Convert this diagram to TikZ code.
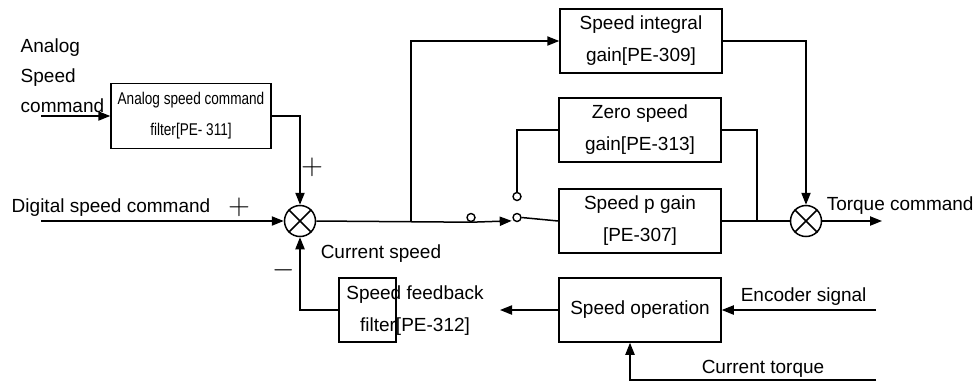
\documentclass[tikz,border=0pt]{standalone}
\usepackage{fontspec}
\setmainfont{Liberation Sans}
\newfontfamily\narrowfont[FakeStretch=0.8]{Liberation Sans}
\usetikzlibrary{arrows.meta}

\begin{document}
\begin{tikzpicture}[
    x=0.5pt, y=-0.5pt,
    >={Triangle[length=6pt, width=4.6pt]},
    line width=0.75pt,
    font=\fontsize{9.5}{16}\selectfont,
    block/.style   = {draw, rectangle, inner sep=0pt, minimum width=81pt, minimum height=32pt, align=center},
    sumj/.style    = {draw, circle, inner sep=0pt, minimum size=15.5pt},
    contact/.style = {draw, circle, fill=white, inner sep=0pt, minimum size=4pt, line width=0.7pt},
    lbl/.style     = {anchor=west, inner sep=0pt},
    sgn/.style     = {inner sep=0pt, font=\fontsize{14}{14}\selectfont}
]
\useasboundingbox (0,0) rectangle (978,382);

% BLOCKS
\node[block] (integ)   at (641,41)  {Speed integral\\gain[PE-309]};
\node[block] (zero)    at (640,130) {Zero speed\\gain[PE-313]};
\node[block] (pgain)   at (640,221) {Speed p gain\\{}[PE-307]};
\node[block] (speedop) at (640,310) {Speed operation};
\node[block, minimum width=28.5pt] (fbfilt) at (367.5,310) {};
\node[align=center, inner sep=0pt] (fbtext) at (415,311) {Speed feedback\\filter[PE-312]};
\node[block, minimum width=80pt, minimum height=32.5pt,
      font=\narrowfont\fontsize{8.5}{15.5}\selectfont] (afilt) at (191,116)
      {Analog speed command\\filter[PE- 311]};

% SUMMING JUNCTIONS
\node[sumj] (sum1) at (300,221) {};
\node[sumj] (sum2) at (806,221) {};
\foreach \s in {sum1,sum2}{
  \draw (\s.north west) -- (\s.south east) (\s.north east) -- (\s.south west);
}

% SWITCH CONTACTS
\node[contact] (sw1) at (471,217.5) {};
\node[contact] (swa) at (517,217.5) {};
\node[contact] (swb) at (517,196.5) {};

% free ends
\coordinate (dig)    at (41,221);
\coordinate (ana)    at (41,116);
\coordinate (branch) at (411,221);
\coordinate (jn)     at (757,221);
\coordinate (torq)   at (882,221);
\coordinate (fbout)  at (500,310);
\coordinate (enc)    at (876,310);
\coordinate (ctq)    at (876,380);

% CONNECTORS
\draw[->] (dig) -- (sum1.west);
\draw[->] (ana) -- (afilt.west);
\draw[->] (afilt.east) -| (sum1.north);
\draw (sum1.east) -- (sw1.south);
\draw[->] (branch) |- (integ.west);
\draw[->] (sw1.south) -- ([xshift=-1pt]swa.south west);
\draw (swa.east) -- (pgain.west);
\draw (swb.north) |- (zero.west);
\draw (pgain.east) -- (sum2.west);
\draw (zero.east) -| (jn);
\draw[->] (integ.east) -| (sum2.north);
\draw[->] (sum2.east) -- (torq);
\draw[->] (speedop.west) -- (fbout);
\draw[->] (fbfilt.west) -| (sum1.south);
\draw[->] (enc) -- (speedop.east);
\draw[->] (ctq) -| ([xshift=-5pt]speedop.south);

% LABELS
\node[lbl] (diglbl) at (11,208) {Digital speed command};
\node[lbl, align=left, font=\fontsize{9.5}{15}\selectfont] (analbl) at (20,76) {Analog\\Speed\\command};
\node[lbl] (cslbl)  at (320,254) {Current speed};
\node[lbl] (tqlbl)  at (826,206) {Torque command};
\node[lbl] (enclbl) at (740,297) {Encoder signal};
\node[lbl] (ctlbl)  at (701,369) {Current torque};
\node[sgn] (plus1) at (239,207) {$+$};
\node[sgn] (plus2) at (312,167) {$+$};
\node[sgn] (minus) at (284,270) {$-$};

\end{tikzpicture}
\end{document}
